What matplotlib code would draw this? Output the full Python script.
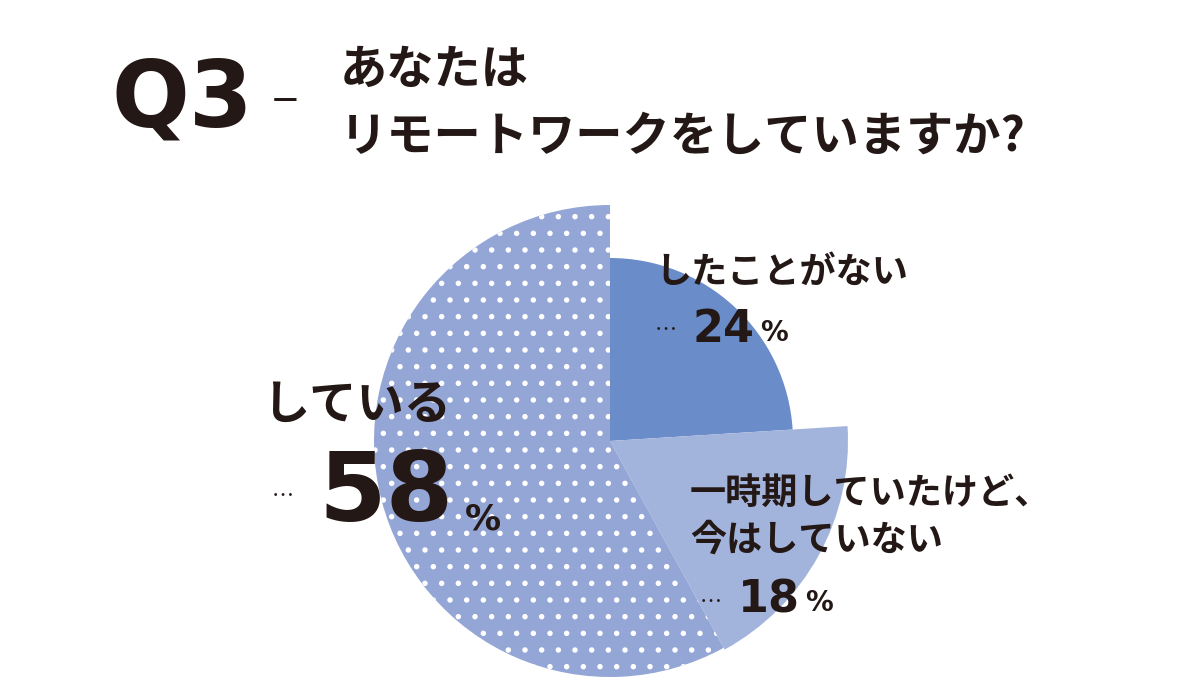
import matplotlib
matplotlib.use("Agg")
import matplotlib.pyplot as plt
from matplotlib.patches import Wedge

plt.rcParams['font.family'] = ['Noto Sans CJK JP', 'DejaVu Sans']
plt.rcParams['hatch.color'] = 'white'
plt.rcParams['hatch.linewidth'] = 1.5

categories = ["したことがない", "一時期していたけど、今はしていない", "している"]
values = [24, 18, 58]
radii = [183, 238, 236]
colors = ["#6a8cc8", "#a3b4dc", "#94a6d6"]
hatches = [None, None, "."]

fig = plt.figure(figsize=(12, 7), dpi=100)
ax = fig.add_axes([0, 0, 1, 1])
ax.set_xlim(0, 1200); ax.set_ylim(0, 700); ax.set_aspect('equal'); ax.axis('off')

cx, cy = 610, 700 - 441
start = 90.0
for v, r, c, h in zip(values, radii, colors, hatches):
    end = start - v * 3.6
    w = Wedge((cx, cy), r, end, start, facecolor=c, edgecolor='white' if h else 'none',
              linewidth=0, hatch=h)
    ax.add_patch(w)
    start = end

col = "#231815"
ax.text(112, 700 - 100, "Q3", fontsize=66, fontweight='bold', color=col, va='center', ha='left', family='DejaVu Sans')
ax.text(272, 700 - 100, "–", fontsize=36, color=col, va='center', ha='left')
ax.text(340, 700 - 70, "あなたは", fontsize=34, fontweight='bold', color=col, va='center')
ax.text(340, 700 - 137, "リモートワークをしていますか?", fontsize=34, fontweight='bold', color=col, va='center')

ax.text(655, 700 - 272, "したことがない", fontsize=26, fontweight='bold', color=col, va='center')
ax.text(655, 700 - 330, "…", fontsize=16, color=col, va='center')
ax.text(693, 700 - 330, "24", fontsize=32, fontweight='bold', color=col, va='center', family='DejaVu Sans')
ax.text(760, 700 - 333, "%", fontsize=20, fontweight='bold', color=col, va='center', family='DejaVu Sans')

ax.text(262, 700 - 405, "している", fontsize=34, fontweight='bold', color=col, va='center')
ax.text(272, 700 - 497, "…", fontsize=16, color=col, va='center')
ax.text(318, 700 - 495, "58", fontsize=70, fontweight='bold', color=col, va='center', family='DejaVu Sans')
ax.text(465, 700 - 520, "%", fontsize=26, fontweight='bold', color=col, va='center', family='DejaVu Sans')

ax.text(690, 700 - 493, "一時期していたけど、", fontsize=26, fontweight='bold', color=col, va='center')
ax.text(690, 700 - 540, "今はしていない", fontsize=26, fontweight='bold', color=col, va='center')
ax.text(700, 700 - 602, "…", fontsize=16, color=col, va='center')
ax.text(738, 700 - 600, "18", fontsize=32, fontweight='bold', color=col, va='center', family='DejaVu Sans')
ax.text(805, 700 - 603, "%", fontsize=20, fontweight='bold', color=col, va='center', family='DejaVu Sans')

fig.savefig("out.png", dpi=100, facecolor='white')
